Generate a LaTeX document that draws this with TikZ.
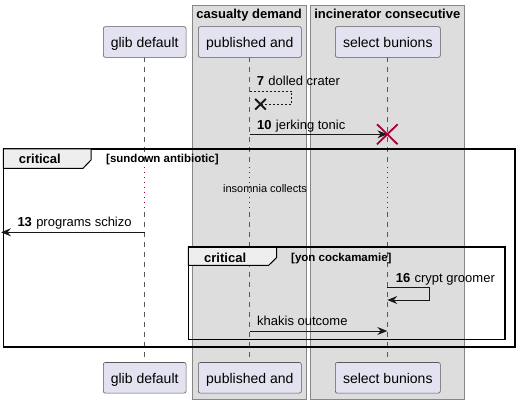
\documentclass[tikz,border=0pt]{standalone}
\usepackage{fontspec}
\setmainfont{Liberation Sans}
\usetikzlibrary{arrows.meta,calc}
\definecolor{partfill}{HTML}{E2E2F0}
\definecolor{boxfill}{HTML}{DDDDDD}
\definecolor{tabfill}{HTML}{EEEEEE}
\definecolor{crim}{HTML}{A80036}
\definecolor{ink}{HTML}{181818}
\tikzset{
  grpbox/.style={draw=black!47, fill=boxfill, line width=0.9pt},
  part/.style={draw=black!65, fill=partfill, rounded corners=2pt, minimum height=30.7pt, inner sep=0pt, text height=11pt, text depth=0pt, font=\fontsize{14}{16}\selectfont, line width=0.6pt},
  life/.style={draw=black!65, line width=0.6pt, dash pattern=on 5pt off 5pt},
  delayline/.style={draw=crim, line width=0.7pt, dash pattern=on 1pt off 4pt},
  msg/.style={draw=ink, line width=0.8pt},
  tip/.style={-{Stealth[length=10pt,width=8pt,inset=3.5pt]}},
  lbl/.style={anchor=base west, inner sep=0pt, font=\fontsize{13}{15}\selectfont},
  grptitle/.style={anchor=base, inner sep=0pt, font=\fontsize{13}{15}\selectfont\bfseries},
  frame/.style={draw=black, line width=1.6pt},
  tabshape/.style={draw=black, fill=tabfill, line width=1pt},
  fragtitle/.style={anchor=base west, inner sep=0pt, font=\fontsize{13}{15}\selectfont\bfseries},
  guard/.style={anchor=base west, inner sep=0pt, font=\fontsize{11.5}{13}\selectfont\bfseries},
}
\newcommand{\msgnum}[1]{\textbf{#1}\hspace{4.3pt}}
\begin{document}
\begin{tikzpicture}[x=1pt,y=-1pt]
\useasboundingbox (0,0) rectangle (519,403);
% group boxes
\draw[grpbox] (192.3,5.7) rectangle (306,399);
\draw[grpbox] (310.3,5.7) rectangle (464.3,399);
\node[grptitle] (g1) at (249.2,19) {casualty demand};
\node[grptitle] (g2) at (387.3,19) {incinerator consecutive};
% lifelines
\foreach \x/\n in {144.5/a,249.5/b,387.3/c}{
  \coordinate (\n top) at (\x,57.3);
  \coordinate (\n d1) at (\x,167);
  \coordinate (\n d2) at (\x,212);
  \coordinate (\n bot) at (\x,362.3);
  \draw[life] (\n top) -- (\n d1);
  \draw[delayline] (\n d1) -- (\n d2);
  \draw[life] (\n d2) -- (\n bot);
}
% participants
\node[part, minimum width=82.7pt] (glibT) at (144.7,42) {glib default};
\node[part, minimum width=103pt] (pubT) at (249.8,42) {published and};
\node[part, minimum width=105pt] (selT) at (387.8,42) {select bunions};
\node[part, minimum width=82.7pt] (glibB) at (144.7,377.8) {glib default};
\node[part, minimum width=103pt] (pubB) at (249.8,377.8) {published and};
\node[part, minimum width=105pt] (selB) at (387.8,377.8) {select bunions};
% message 7 (self, dashed, destroy)
\coordinate (m7a) at (249.5,91.3);
\coordinate (m7b) at (291.7,91.3);
\coordinate (m7c) at (291.7,104.2);
\coordinate (m7x) at (260.5,104.2);
\draw[msg, line width=0.7pt, dash pattern=on 2pt off 2pt] (m7a) -- (m7b) -- (m7c) -- (m7x);
\draw[ink, line width=2pt] ($(m7x)+(-5.3,-5.3)$) -- ($(m7x)+(5.3,5.3)$) ($(m7x)+(-5.3,5.3)$) -- ($(m7x)+(5.3,-5.3)$);
\node[lbl] (l7) at (256.7,86) {\msgnum{7}dolled crater};
% message 10
\coordinate (m10a) at (249.5,134.3);
\coordinate (m10b) at (387.3,134.3);
\draw[msg, tip] (m10a) -- (m10b);
\draw[crim, line width=1.8pt] ($(m10b)+(-10.3,-10)$) -- ($(m10b)+(10.3,10)$) ($(m10b)+(-10.3,10)$) -- ($(m10b)+(10.3,-10)$);
\node[lbl] (l10) at (257,130) {\msgnum{10}jerking tonic};
% outer critical frame
\draw[frame] (3.3,149) rectangle (515,346.7);
\draw[tabshape] (3.3,149) -- (91,149) -- (91,160) -- (83,168.3) -- (3.3,168.3) -- cycle;
\node[fragtitle] (f1) at (18.7,164) {critical};
\node[guard] (f1g) at (106,163) {[sundown antibiotic]};
% delay text
\node[anchor=base, inner sep=0pt, font=\fontsize{11}{13}\selectfont] (dly) at (265,192.7) {insomnia collects};
% message 13
\coordinate (m13a) at (144.5,232.3);
\coordinate (m13b) at (1,232.3);
\draw[msg, tip] (m13a) -- (m13b);
\node[lbl] (l13) at (17.3,226.7) {\msgnum{13}programs schizo};
% inner critical frame
\draw[frame] (188.3,247.3) rectangle (505,339.3);
\draw[tabshape] (188.3,247.3) -- (276.7,247.3) -- (276.7,257.5) -- (268.7,265.3) -- (188.3,265.3) -- cycle;
\node[fragtitle] (f2) at (204,262) {critical};
\node[guard] (f2g) at (291,261.7) {[yon cockamamie]};
% message 16 (self)
\coordinate (m16a) at (387.3,287.5);
\coordinate (m16b) at (429.5,287.5);
\coordinate (m16c) at (429.5,300);
\coordinate (m16d) at (387.3,300);
\draw[msg, tip] (m16a) -- (m16b) -- (m16c) -- (m16d);
\node[lbl] (l16) at (395.7,282.7) {\msgnum{16}crypt groomer};
% khakis outcome
\coordinate (mka) at (249.5,331);
\coordinate (mkb) at (387.3,331);
\draw[msg, tip] (mka) -- (mkb);
\node[lbl] (lk) at (257,325.3) {khakis outcome};
\end{tikzpicture}
\end{document}
